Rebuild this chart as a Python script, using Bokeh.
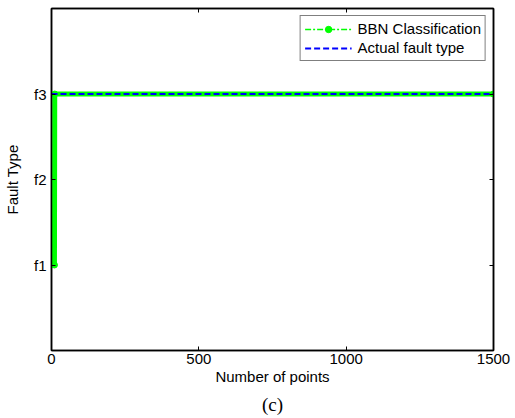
from bokeh.plotting import figure
from bokeh.models import (Range1d, FixedTicker, LinearAxis, Legend, LegendItem, Title)
from bokeh.embed import file_html
from bokeh.resources import INLINE

# Data
bbn_points = [10, 11, 1500]
bbn_class = [1, 3, 3]
actual_points = [0, 1500]
actual_class = [3, 3]
x_ticks = [0, 500, 1000, 1500]
y_ticks = [1, 2, 3]
y_tick_labels = {1: "f1", 2: "f2", 3: "f3"}

FONT = "Liberation Sans"

p = figure(width=515, height=418, output_backend="svg", toolbar_location=None,
           x_range=Range1d(0, 1500), y_range=Range1d(0, 4),
           frame_width=442, frame_height=342,
           min_border_left=50, min_border_right=23, min_border_top=8, min_border_bottom=8,
           x_axis_label="Number of points", y_axis_label="Fault Type")
p.background_fill_color = "white"
p.border_fill_color = "white"
p.outline_line_color = "black"
p.outline_line_width = 1.5
p.xgrid.visible = False
p.ygrid.visible = False

for ax in (p.xaxis[0], p.yaxis[0]):
    ax.axis_line_color = "black"
    ax.axis_line_width = 1.5
    ax.major_tick_in = 4
    ax.major_tick_out = 0
    ax.minor_tick_line_color = None
    ax.major_label_text_font = FONT
    ax.major_label_text_font_size = "15px"
    ax.major_label_text_color = "black"
    ax.axis_label_text_font = FONT
    ax.axis_label_text_font_size = "15px"
    ax.axis_label_text_font_style = "normal"
    ax.axis_label_text_color = "black"

p.xaxis[0].ticker = FixedTicker(ticks=x_ticks)
p.yaxis[0].ticker = FixedTicker(ticks=y_ticks)
p.yaxis[0].major_label_overrides = y_tick_labels
p.xaxis[0].axis_label_standoff = 1
p.xaxis[0].major_label_standoff = 3
p.yaxis[0].axis_label_standoff = 10
p.yaxis[0].major_label_standoff = 5

# box axes (top/right) with inward ticks, no labels
top = LinearAxis(ticker=FixedTicker(ticks=x_ticks), major_label_text_color=None,
                 major_tick_in=4, major_tick_out=0, minor_tick_line_color=None,
                 axis_line_color="black", axis_line_width=1.5)
right = LinearAxis(ticker=FixedTicker(ticks=y_ticks), major_label_text_color=None,
                   major_tick_in=4, major_tick_out=0, minor_tick_line_color=None,
                   axis_line_color="black", axis_line_width=1.5)
p.add_layout(top, "above")
p.add_layout(right, "right")

# thick band made by the dense markers
p.line(bbn_points, bbn_class, line_color="#00ff00", line_width=5)
bbn_line = p.line(bbn_points, bbn_class, line_color="#00ff00", line_width=1.5, line_dash="6 2 2 2")
bbn_mark = p.scatter(bbn_points, bbn_class, marker="circle", size=6,
                     fill_color="#00ff00", line_color="#00ff00")
act_line = p.line(actual_points, actual_class, line_color="#0000ff", line_width=2, line_dash="6 3")

legend = Legend(items=[
    LegendItem(label="BBN Classification", renderers=[bbn_line, bbn_mark]),
    LegendItem(label="Actual fault type", renderers=[act_line]),
], location="top_right")
legend.border_line_color = "black"
legend.border_line_width = 1.5
legend.background_fill_alpha = 1
legend.label_text_font = FONT
legend.label_text_font_size = "15px"
legend.label_text_color = "black"
legend.glyph_width = 47
legend.glyph_height = 16
legend.label_height = 16
legend.spacing = 2
legend.padding = 4
legend.margin = 7
legend.label_standoff = 6
p.add_layout(legend)

cap = Title(text="(c)", align="center", text_font="Liberation Serif",
            text_font_size="19px", text_font_style="normal", text_color="black",
            standoff=8)
p.add_layout(cap, "below")

open("out.html", "w").write(file_html(p, INLINE))
